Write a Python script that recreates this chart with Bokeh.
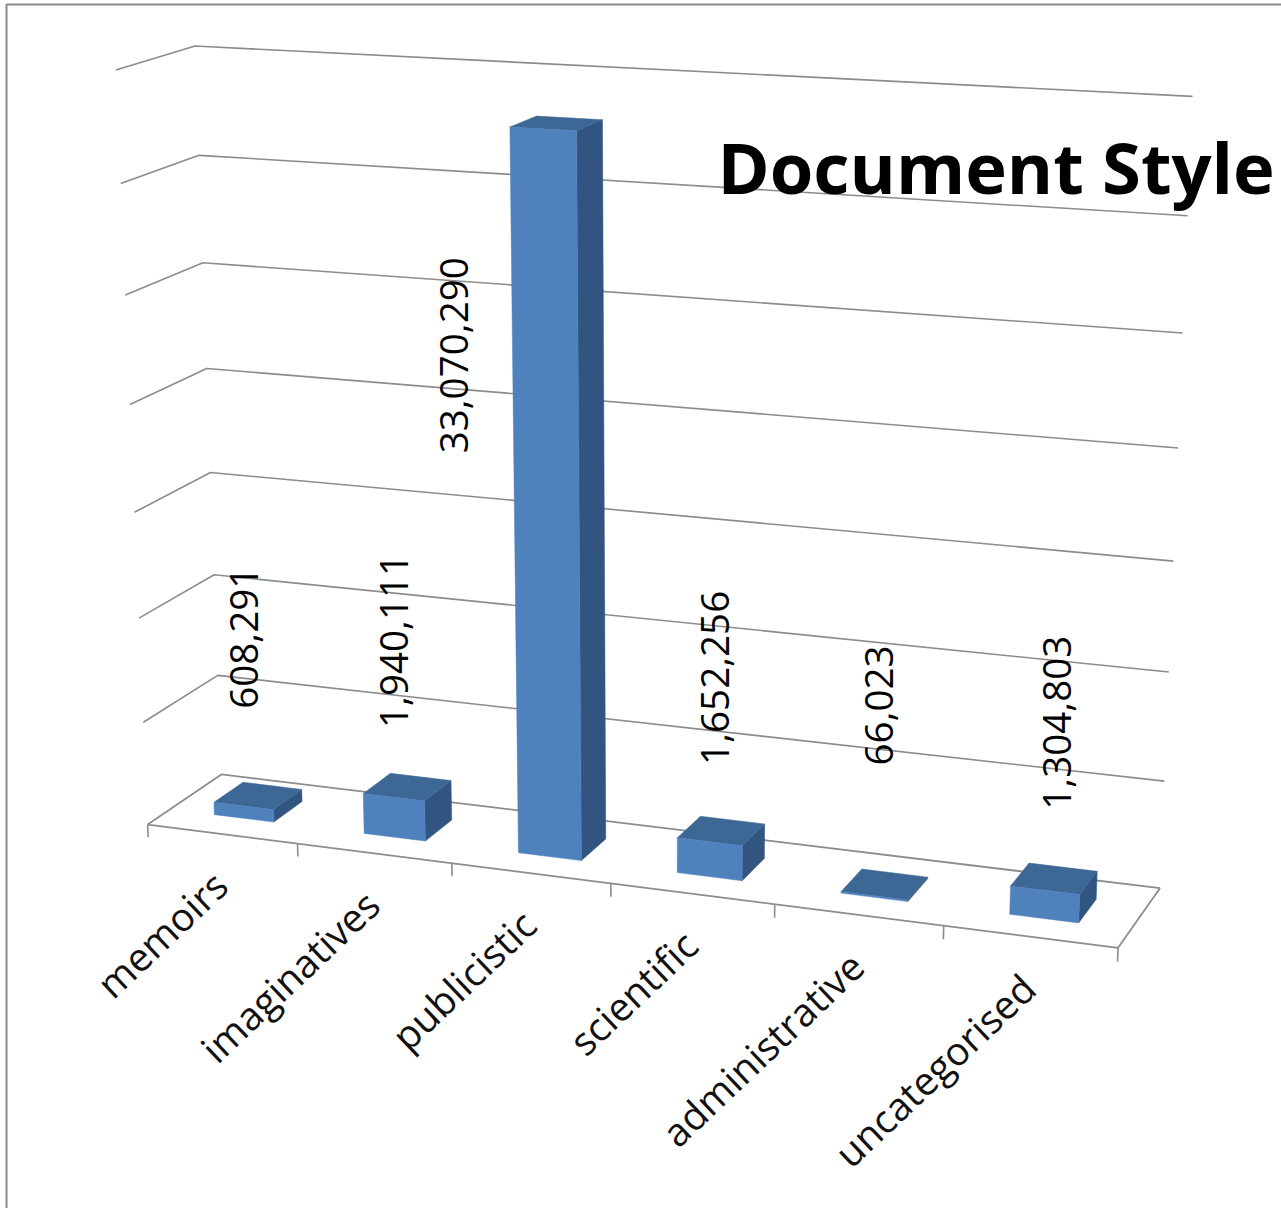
import numpy as np
from bokeh.core.properties import value
from bokeh.embed import file_html
from bokeh.models import ColumnDataSource, Range1d
from bokeh.plotting import figure
from bokeh.resources import INLINE

# Chart data
categories = ["memoirs", "imaginatives", "publicistic", "scientific", "administrative", "uncategorised"]
documents = [608291, 1940111, 33070290, 1652256, 66023, 1304803]
axis_max = 35000000
grid_steps = 7

# Value-label offsets from the top of each bar, in screen pixels
label_dx = [-14, -13, -102, -6, -6, 3]
label_dy = [-87, -59, 330, -66, -119, -69]

W, H = 1281, 1208
FRONT, TOP, SIDE = "#4f81bd", "#3d6795", "#315580"
GRID = "#8c8c8c"
FONT = "Open Sans"

# Perspective camera: (category position, depth, height fraction) -> screen pixels,
# solved from where the corners of the chart box should land.
n = len(categories)
box_world = [(0, 0, 0), (n, 0, 0), (0, 1, 0), (n, 1, 0), (0, 1, 1), (n, 1, 1), (0, 0, 1)]
box_screen = [(148, 824), (1117, 948), (220, 774), (1160, 887), (195, 46), (1192, 96), (115, 69)]
rows, rhs = [], []
for (u, d, z), (sx, sy) in zip(box_world, box_screen):
    rows.append([u, d, z, 1, 0, 0, 0, 0, -sx * u, -sx * d, -sx * z])
    rhs.append(sx)
    rows.append([0, 0, 0, 0, u, d, z, 1, -sy * u, -sy * d, -sy * z])
    rhs.append(sy)
cam = np.append(np.linalg.lstsq(np.array(rows, float), np.array(rhs, float), rcond=None)[0], 1.0).reshape(3, 4)


def project(u, d, z):
    q = cam @ np.array([u, d, z, 1.0])
    return q[0] / q[2], q[1] / q[2]


def polygon(points):
    xy = [project(*pt) for pt in points]
    return [a for a, _ in xy], [b for _, b in xy]


p = figure(width=W, height=H, x_range=Range1d(0, W), y_range=Range1d(H, 0),
           output_backend="svg", toolbar_location=None, min_border=0,
           x_axis_type=None, y_axis_type=None, outline_line_color=None)
p.grid.visible = False
p.background_fill_color = "white"
p.border_fill_color = "white"

# Frame of the chart area, running off the page on the right and at the bottom
p.line([6, 6, W], [H, 4, 4], line_color="#8a8a8a", line_width=2)

# Wall gridlines
for k in range(1, grid_steps + 1):
    xs, ys = polygon([(0, 0, k / grid_steps), (0, 1, k / grid_steps), (n, 1, k / grid_steps)])
    p.line(xs, ys, line_color=GRID, line_width=1.6)

# Floor outline and category tick marks
xs, ys = polygon([(0, 0, 0), (0, 1, 0), (n, 1, 0), (n, 0, 0), (0, 0, 0)])
p.line(xs, ys, line_color=GRID, line_width=1.8)
for i in range(n + 1):
    xs, ys = polygon([(i, 0, 0), (i, 0, -0.018)])
    p.line(xs, ys, line_color=GRID, line_width=1.6)

# Bars: side, top and front faces, back to front
BAR_U, BAR_D = 0.2, 0.2
for i, v in enumerate(documents):
    z = v / axis_max
    u0, u1 = i + 0.5 - BAR_U, i + 0.5 + BAR_U
    d0, d1 = 0.5 - BAR_D, 0.5 + BAR_D
    faces = [
        ([(u1, d0, 0), (u1, d1, 0), (u1, d1, z), (u1, d0, z)], SIDE),
        ([(u0, d0, z), (u1, d0, z), (u1, d1, z), (u0, d1, z)], TOP),
        ([(u0, d0, 0), (u1, d0, 0), (u1, d0, z), (u0, d0, z)], FRONT),
    ]
    for pts, col in faces:
        xs, ys = polygon(pts)
        p.patch(xs, ys, fill_color=col, line_color=col, line_width=0.5)

# Value labels, written upwards
tops = [project(i + 0.5, 0.5, v / axis_max) for i, v in enumerate(documents)]
p.text(x=[t[0] + dx for t, dx in zip(tops, label_dx)],
       y=[t[1] + dy for t, dy in zip(tops, label_dy)],
       text=[f"{v:,}" for v in documents],
       angle=np.pi / 2, text_align="left", text_baseline="middle",
       text_font=value(FONT), text_font_size="38.5px", text_color="black")

# Category labels, slanted up to the axis
anchors = [project(i + 0.5, 0, 0) for i in range(n)]
cat_source = ColumnDataSource(dict(x=[a[0] - 2 for a in anchors], y=[a[1] + 44 for a in anchors], t=categories))
p.text(x="x", y="y", text="t", source=cat_source, angle=np.radians(43.5),
       text_align="right", text_baseline="middle",
       text_font=value(FONT), text_font_size="39px", text_color="#111111")

# Title
p.text(x=[717], y=[166], text=["Document Style"], text_align="left", text_baseline="middle",
       text_font=value(FONT), text_font_style="bold", text_font_size="70.5px", text_color="black")

open("out.html", "w").write(file_html(p, INLINE))
